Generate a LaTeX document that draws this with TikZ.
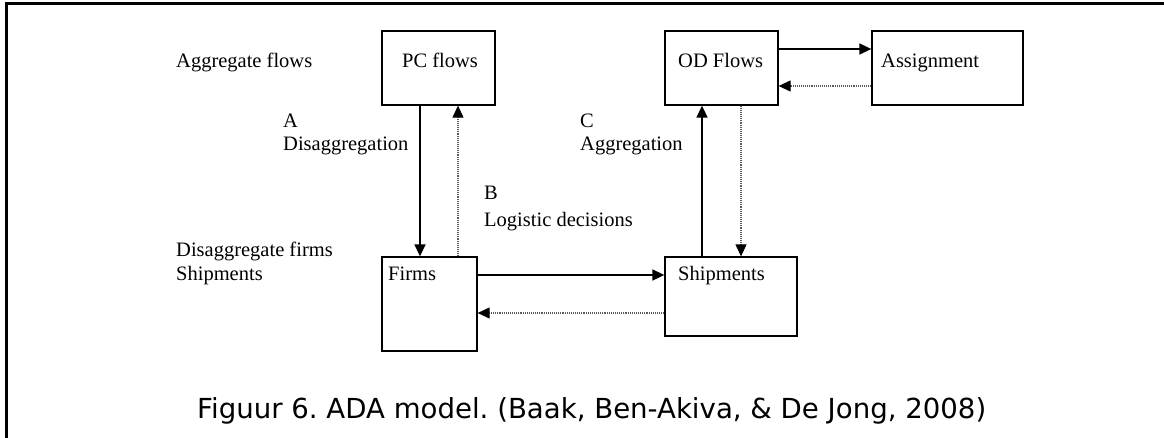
\documentclass[tikz,border=0pt]{standalone}
\usepackage{fontspec}
\setmainfont{Liberation Serif}
\newfontfamily\captionfont{DejaVu Sans}
\usetikzlibrary{arrows.meta}
\frenchspacing
\tikzset{box/.style={draw, line width=1.3pt, inner sep=0pt},
         txt/.style={anchor=base west, inner sep=0pt, font=\fontsize{20.5}{24}\selectfont},
         flow/.style={line width=1.6pt, -{Triangle[length=12pt,width=11pt]}},
         back/.style={line width=1.1pt, densely dotted, black!65,
           -{Triangle[length=12pt,width=11pt,fill=black,color=black]}}}

\begin{document}
\begin{tikzpicture}[x=1pt,y=-1pt]
  \useasboundingbox (0,0) rectangle (1164,438);
  \draw[line width=3pt] (6.5,438) -- (6.5,4) -- (1164,4);
  \node[box, minimum width=113pt, minimum height=74pt] (pc) at (438.5,68) {};
  \node[box, minimum width=113pt, minimum height=74pt] (od) at (721.5,68) {};
  \node[box, minimum width=151pt, minimum height=74pt] (asg) at (947.5,68) {};
  \node[box, minimum width=95pt, minimum height=94pt] (firms) at (429.5,304) {};
  \node[box, minimum width=132pt, minimum height=79pt] (ship) at (731,296.5) {};
  \node[txt] (pcl) at (402,68) {PC flows};
  \node[txt] (odl) at (678,68) {OD Flows};
  \node[txt] (asgl) at (881,68) {Assignment};
  \node[txt] (firmsl) at (388,280) {Firms};
  \node[txt] (shipl) at (678,280) {Shipments};
  \node[txt] (aggr) at (176,68) {Aggregate flows};
  \node[txt, align=left] (disaggr) at (176,280) {Disaggregate firms\\[-0.8pt]Shipments};
  \node[txt, align=left] (stepa) at (283,151) {A\\[-0.8pt]Disaggregation};
  \node[txt, align=left] (stepb) at (484,227) {B\\[3.6pt]Logistic decisions};
  \node[txt, align=left] (stepc) at (580,151) {C\\[-0.8pt]Aggregation};
  \draw[flow] (pc.south -| 420,0) -- (firms.north -| 420,0);
  \draw[back] (firms.north -| 458,0) -- (pc.south -| 458,0);
  \draw[flow] (firms.east |- 0,275) -- (ship.west |- 0,275);
  \draw[back] (ship.west |- 0,313) -- (firms.east |- 0,313);
  \draw[flow] (ship.north -| 702,0) -- (od.south -| 702,0);
  \draw[back] (od.south -| 741,0) -- (ship.north -| 741,0);
  \draw[flow] (od.east |- 0,49) -- (asg.west |- 0,49);
  \draw[back] (asg.west |- 0,86) -- (od.east |- 0,86);
  \node[anchor=base west, inner sep=0pt, font=\captionfont\fontsize{27.6}{32}\selectfont] (caption) at (197,418)
    {Figuur 6. ADA model. (Baak, Ben-Akiva, \& De Jong, 2008)};
\end{tikzpicture}
\end{document}
